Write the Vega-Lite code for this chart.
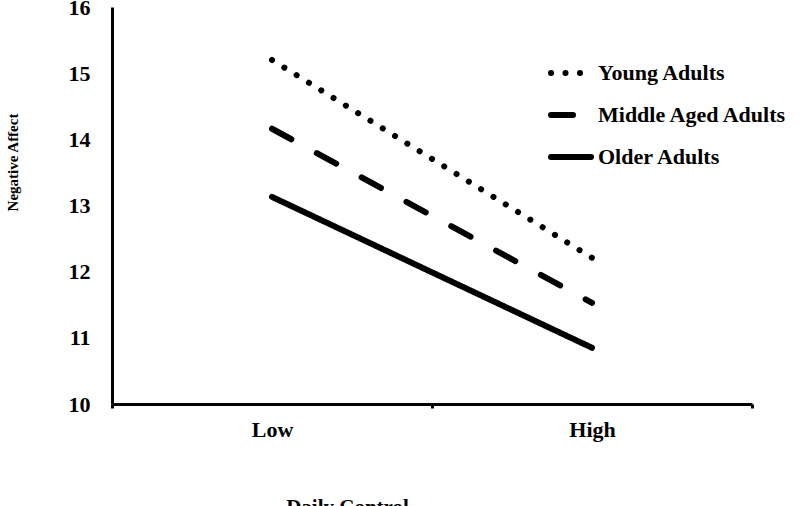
{
  "$schema": "https://vega.github.io/schema/vega-lite/v6.json",
  "width": 640,
  "height": 397,
  "autosize": {"type": "none"},
  "padding": {"left": 112, "top": 7, "right": 48, "bottom": 102},
  "background": "white",
  "config": {
    "view": {"stroke": null},
    "font": "Liberation Serif"
  },
  "data": {
    "values": [
      {"control": "Low", "group": "Young Adults", "affect": 15.2},
      {"control": "High", "group": "Young Adults", "affect": 12.21},
      {"control": "Low", "group": "Middle Aged Adults", "affect": 14.16},
      {"control": "High", "group": "Middle Aged Adults", "affect": 11.53},
      {"control": "Low", "group": "Older Adults", "affect": 13.13},
      {"control": "High", "group": "Older Adults", "affect": 10.85}
    ]
  },
  "mark": {"type": "line", "strokeWidth": 6, "strokeCap": "round", "color": "black"},
  "encoding": {
    "x": {
      "field": "control",
      "type": "ordinal",
      "sort": ["Low", "High"],
      "scale": {"type": "band", "paddingInner": 0, "paddingOuter": 0},
      "axis": {
        "title": "Daily Control",
        "titleFont": "Liberation Serif",
        "titleFontSize": 21,
        "titleFontWeight": "bold",
        "titleColor": "black",
        "titleX": 235,
        "titleY": 92,
        "titleAlign": "center",
        "titleBaseline": "top",
        "labelAngle": 0,
        "labelFont": "Liberation Serif",
        "labelFontSize": 22,
        "labelFontWeight": "bold",
        "labelColor": "black",
        "labelPadding": 11,
        "labelBaseline": "top",
        "tickBand": "extent",
        "tickSize": 4,
        "tickWidth": 3,
        "tickColor": "black",
        "domainColor": "black",
        "domainWidth": 3,
        "grid": false
      }
    },
    "y": {
      "field": "affect",
      "type": "quantitative",
      "scale": {"domain": [10, 16], "nice": false, "zero": false},
      "axis": {
        "title": "Negative Affect",
        "titleFont": "Liberation Serif",
        "titleFontSize": 15,
        "titleFontWeight": "bold",
        "titleColor": "black",
        "titleX": -100,
        "titleY": 155,
        "titleAngle": -90,
        "titleAlign": "center",
        "titleBaseline": "middle",
        "values": [10, 11, 12, 13, 14, 15, 16],
        "labelFont": "Liberation Serif",
        "labelFontSize": 22,
        "labelFontWeight": "bold",
        "labelColor": "black",
        "labelPadding": 22,
        "ticks": false,
        "domainColor": "black",
        "domainWidth": 3,
        "grid": false
      }
    },
    "strokeDash": {
      "field": "group",
      "type": "nominal",
      "scale": {
        "domain": ["Young Adults", "Middle Aged Adults", "Older Adults"],
        "range": [[0.1, 14.36], [22, 29], [1, 0]]
      },
      "legend": {
        "title": null,
        "orient": "none",
        "legendX": 436,
        "legendY": 43,
        "padding": 0,
        "symbolType": "stroke",
        "symbolSize": 1600,
        "symbolStrokeWidth": 6,
        "symbolStrokeColor": "black",
        "labelFont": "Liberation Serif",
        "labelFontSize": 22,
        "labelFontWeight": "bold",
        "labelColor": "black",
        "labelOffset": 4,
        "labelLimit": 400,
        "rowPadding": 7,
        "encode": {
          "symbols": {"update": {"strokeCap": {"value": "round"}}}
        }
      }
    }
  }
}
